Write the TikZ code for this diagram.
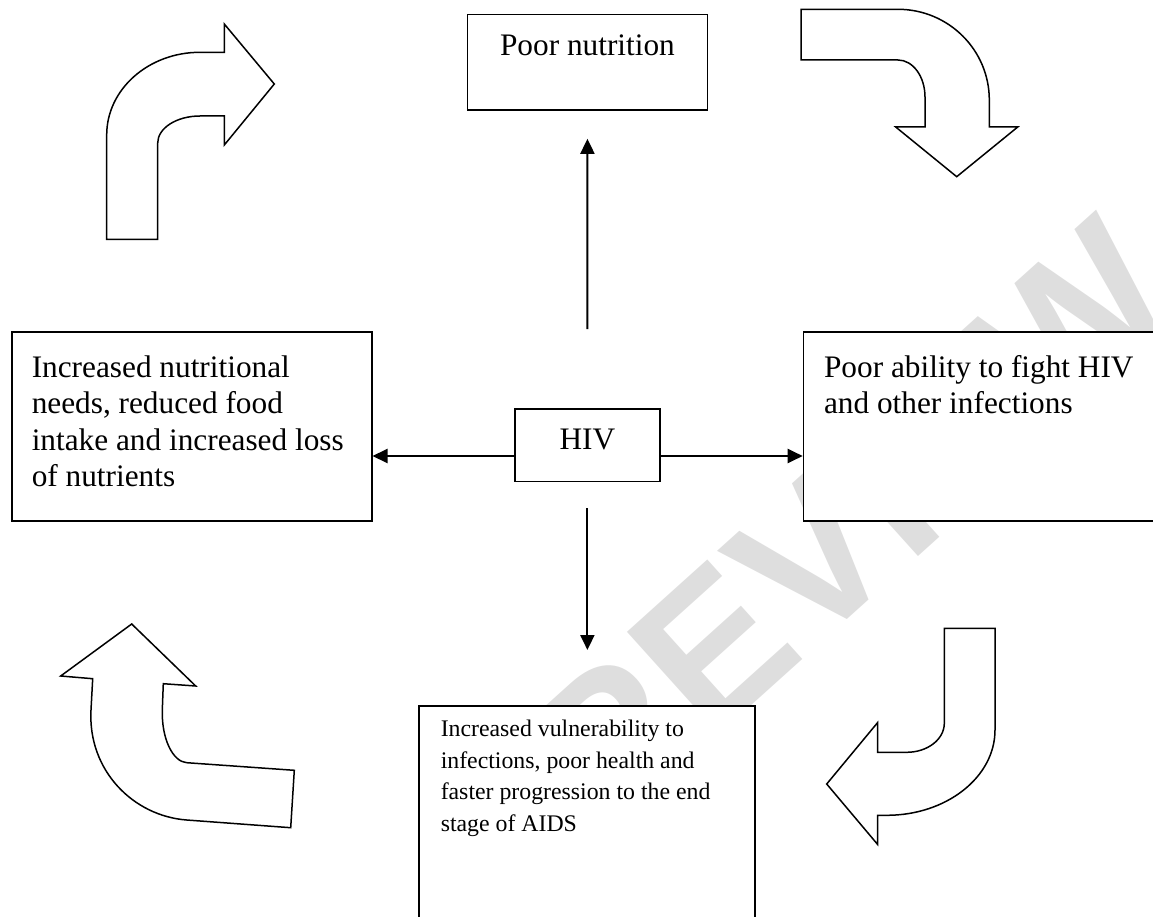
\documentclass[tikz,border=0pt]{standalone}
\usepackage{fontspec}
\setmainfont{Liberation Serif}
\newfontfamily\wmfont{Liberation Sans}
\usetikzlibrary{arrows.meta}
\tikzstyle{bx}=[draw=black,fill=white,line width=1.5pt,inner sep=0pt,anchor=north west]
\tikzstyle{ar}=[line width=2pt]
\tikzstyle{curv}=[draw=black,fill=white,line width=1.5pt]
\newcommand{\bigtxt}{\fontsize{31.3}{36.5}\selectfont}
\newcommand{\smalltxt}{\fontsize{23.8}{31.5}\selectfont}

\begin{document}
\begin{tikzpicture}[x=1pt,y=-1pt,>={Triangle[length=15pt,width=14pt]}]
\useasboundingbox (0,0) rectangle (1153,917);
\node[text=black!13,font=\wmfont\bfseries\fontsize{200}{200}\selectfont,rotate=42] (wm) at (800,570) {PREVIEW};

\node[bx,font=\bigtxt,text height=41pt,text depth=54.3pt,minimum width=240pt] (poor) at (466.7,14) {Poor nutrition};
\node[bx,font=\bigtxt,text height=40pt,text depth=32.4pt,minimum width=144.7pt] (hiv) at (514.3,408.3) {HIV};
\node[bx,font=\bigtxt,inner xsep=20pt,inner ysep=23.6pt] (needs) at (11,331)
  {\parbox[t][141.8pt][t]{320pt}{Increased nutritional\\needs, reduced food\\intake and increased loss\\of nutrients}};
\node[bx,font=\bigtxt,inner xsep=20.6pt,inner ysep=23.6pt] (fight) at (802.7,331)
  {\parbox[t][141.8pt][t]{330pt}{Poor ability to fight HIV\\and other infections}};
\node[bx,font=\smalltxt,inner xsep=22pt,inner ysep=14.7pt] (vuln) at (418,705)
  {\parbox[t][200pt][t]{292pt}{Increased vulnerability to\\infections, poor health and\\faster progression to the end\\stage of AIDS}};

\coordinate (hivmid) at (586.7,456);
\draw[ar,->,shorten <=79.3pt,shorten >=28pt] (hiv.north) -- (poor.south);
\draw[ar,->,shorten <=26pt,shorten >=55pt] (hiv.south) -- (hiv.south |- vuln.north);
\draw[ar,->] (hivmid -| hiv.west) -- (hivmid -| needs.east);
\draw[ar,->] (hivmid -| hiv.east) -- (hivmid -| fight.west);

\draw[curv] (106.7,239.3) -- (106.7,135) .. controls (106.7,89.3) and (148.5,52.3) .. (200,52.3) -- (224.3,52.3) -- (224.3,24) -- (274.3,84) -- (224.3,145) -- (224.3,116) -- (200,116) .. controls (176.6,116) and (157.7,128.1) .. (157.7,143) -- (157.7,239.3) -- cycle;
\draw[curv] (801,9.3) -- (898,9.3) .. controls (948.4,9.3) and (989.3,49.9) .. (989.3,100) -- (989.3,127) -- (1017.7,127) -- (956.7,176.7) -- (895.7,127) -- (925,127) -- (925,97) .. controls (925,76.6) and (912.9,60) .. (898,60) -- (801,60) -- cycle;
\draw[curv] (131.7,624) -- (60.7,676) -- (92.7,678.7) -- (91,710) .. controls (87.7,770.6) and (133.4,816) .. (186.7,820) -- (290.7,827.7) -- (294.3,770.3) -- (186.7,762.7) .. controls (172.9,761.7) and (161.5,739) .. (162.3,710) -- (163.3,683.7) -- (195.7,686) -- cycle;
\draw[curv] (944.3,628.3) -- (995,628.3) -- (995,730) .. controls (995,777.1) and (946.5,815.3) .. (886.7,815.3) -- (877.5,815.3) -- (877.5,844.3) -- (826.7,784) -- (877.5,722.7) -- (877.5,752.3) -- (906.7,752.3) .. controls (927.5,752.3) and (944.3,739.3) .. (944.3,723.3) -- cycle;
\end{tikzpicture}
\end{document}
